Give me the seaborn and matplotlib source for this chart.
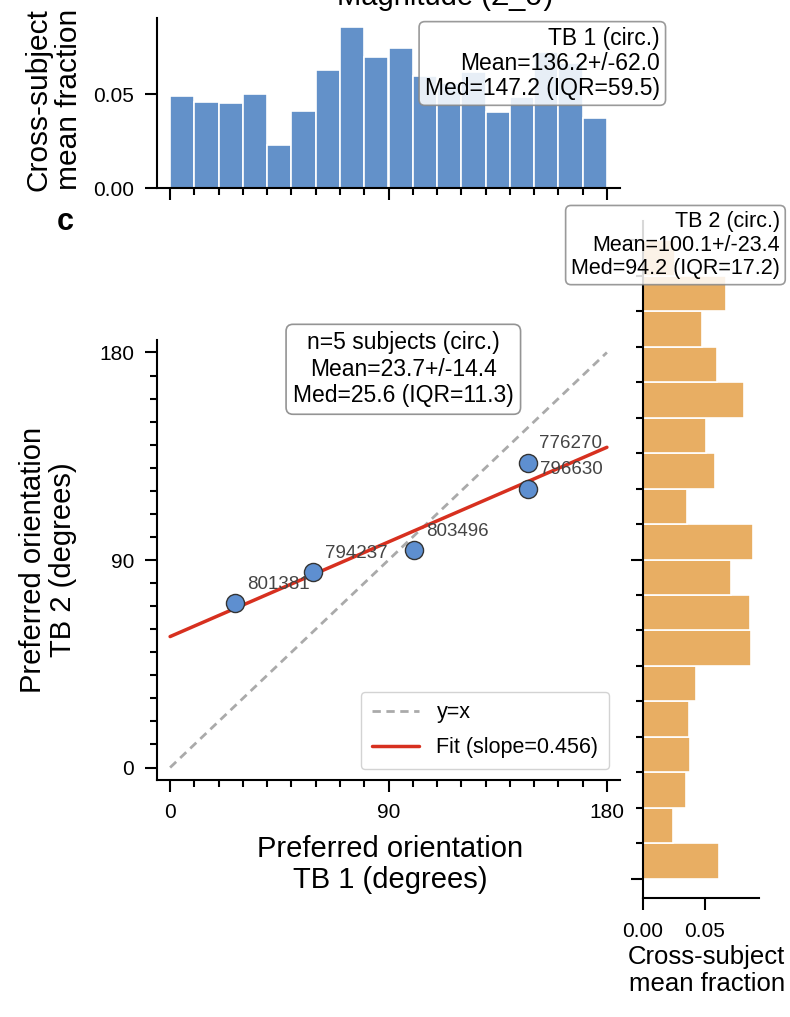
import numpy as np
import pandas as pd
import matplotlib
matplotlib.use("Agg")
import matplotlib.pyplot as plt
from matplotlib.ticker import FixedLocator, MultipleLocator, NullFormatter
from matplotlib.lines import Line2D
import seaborn as sns

# ---- data -------------------------------------------------------------
bin_edges = list(range(0, 181, 10))
bin_centers = [e + 5 for e in bin_edges[:-1]]

# cross-subject mean fraction per 10-degree bin, TB 1 (top marginal)
tb1_fraction = [0.0494, 0.0459, 0.0455, 0.0505, 0.0231, 0.0413, 0.0630, 0.0861, 0.0702,
                0.0750, 0.0599, 0.0560, 0.0622, 0.0405, 0.0489, 0.0726, 0.0667, 0.0373]
# cross-subject mean fraction per 10-degree bin, TB 2 (right marginal), bins 0-10 ... 170-180
tb2_fraction = [0.0616, 0.0243, 0.0351, 0.0380, 0.0378, 0.0430, 0.0878, 0.0870, 0.0713,
                0.0891, 0.0357, 0.0586, 0.0513, 0.0824, 0.0605, 0.0478, 0.0675, 0.0262]

subjects = ["801381", "794237", "803496", "776270", "796630"]
pref_tb1 = [26.8, 59.0, 100.5, 147.3, 147.6]
pref_tb2 = [71.3, 84.7, 94.3, 132.1, 121.0]

fit_slope = 0.456

tb1_stats = "TB 1 (circ.)\nMean=136.2+/-62.0\nMed=147.2 (IQR=59.5)"
tb2_stats = "TB 2 (circ.)\nMean=100.1+/-23.4\nMed=94.2 (IQR=17.2)"
diff_stats = "n=5 subjects (circ.)\nMean=23.7+/-14.4\nMed=25.6 (IQR=11.3)"

# ---- style -------------------------------------------------------------
sns.set_theme(style="ticks", rc={"text.color": "black", "axes.labelcolor": "black",
                                 "xtick.color": "black", "ytick.color": "black",
                                 "axes.edgecolor": "black", "axes.linewidth": 1.5})
plt.rcParams["font.family"] = ["Liberation Sans", "DejaVu Sans"]

BLUE = "#6391C9"
ORANGE = "#E8AE63"
POINT = "#5E8FD0"
RED = "#D7301F"
GREY = "#AAAAAA"
DASH = (0, (3, 2))

W, H = 790, 1017
fig = plt.figure(figsize=(W / 100, H / 100), dpi=100)


def px_axes(left, top, right, bottom):
    return fig.add_axes([left / W, 1 - bottom / H, (right - left) / W, (bottom - top) / H])


ax_top = px_axes(157, 18, 620, 188)
ax_sc = px_axes(157, 340, 620, 780)
ax_rt = px_axes(643, 221, 759, 898)

lim = (-5.4, 185.4)


def style_ticks(ax, pad=8):
    ax.tick_params(which="major", length=8.5, width=1.5, labelsize=15, pad=pad, color="black")
    ax.tick_params(which="minor", length=4.8, width=1.5, color="black")


# ---- top marginal: TB 1 ----------------------------------------------
top_df = pd.DataFrame({"center": bin_centers, "fraction": tb1_fraction})
sns.histplot(data=top_df, x="center", weights="fraction", bins=bin_edges, ax=ax_top,
             color=BLUE, alpha=1, edgecolor="white", linewidth=1.2)
ax_top.set_xlim(lim)
ax_top.set_ylim(0, 0.0909)
ax_top.xaxis.set_major_locator(FixedLocator([0, 90, 180]))
ax_top.xaxis.set_minor_locator(MultipleLocator(10))
ax_top.xaxis.set_major_formatter(NullFormatter())
ax_top.set_yticks([0, 0.05])
ax_top.set_yticklabels(["0.00", "0.05"])
ax_top.set_xlabel("")
ax_top.set_ylabel("Cross-subject\nmean fraction", fontsize=21.5, linespacing=1.12)
ax_top.yaxis.set_label_coords(-0.16, 0.52)
style_ticks(ax_top)
sns.despine(ax=ax_top)
ax_top.text(1.086, 0.945, tb1_stats, transform=ax_top.transAxes, ha="right", va="top",
            multialignment="right", fontsize=16.5, linespacing=1.09, zorder=5,
            bbox=dict(boxstyle="round,pad=0.25", fc="white", ec="#888888", lw=1.2, alpha=0.85))

# ---- scatter -------------------------------------------------------------
sc_df = pd.DataFrame({"subject": subjects, "tb1": pref_tb1, "tb2": pref_tb2})
diag = np.array([0, 180])
ax_sc.plot(diag, diag, ls=DASH, color=GREY, lw=2, label="y=x", zorder=1)
intercept = np.mean(pref_tb2) - fit_slope * np.mean(pref_tb1)
ax_sc.plot(diag, intercept + fit_slope * diag, color=RED, lw=2.5,
           label=f"Fit (slope={fit_slope:.3f})", zorder=2)
sns.scatterplot(data=sc_df, x="tb1", y="tb2", ax=ax_sc, s=170, color=POINT,
                edgecolor="#333333", linewidth=1.0, zorder=3, legend=False)
for name, xv, yv in zip(subjects, pref_tb1, pref_tb2):
    ax_sc.annotate(name, (xv, yv), xytext=(8.4, 7.6), textcoords="offset points",
                   ha="left", va="bottom", fontsize=13.5, color="#444444")

ax_sc.set_xlim(lim)
ax_sc.set_ylim(lim)
for axis in (ax_sc.xaxis, ax_sc.yaxis):
    axis.set_major_locator(FixedLocator([0, 90, 180]))
    axis.set_minor_locator(MultipleLocator(10))
ax_sc.set_xlabel("Preferred orientation\nTB 1 (degrees)", fontsize=21, linespacing=1.12)
ax_sc.set_ylabel("Preferred orientation\nTB 2 (degrees)", fontsize=21, linespacing=1.12)
ax_sc.xaxis.set_label_coords(0.503, -0.125)
ax_sc.yaxis.set_label_coords(-0.172, 0.5)
style_ticks(ax_sc)
sns.despine(ax=ax_sc)

handles = [Line2D([], [], ls=DASH, color=GREY, lw=2),
           Line2D([], [], color=RED, lw=2.5)]
ax_sc.legend(handles, ["y=x", f"Fit (slope={fit_slope:.3f})"], loc="lower right",
             fontsize=15.5, frameon=True, fancybox=True, framealpha=0.85,
             edgecolor="#cccccc", handlelength=2.2, borderpad=0.5, labelspacing=0.65)

ax_sc.text(0.532, 1.02, diff_stats, transform=ax_sc.transAxes, ha="center", va="top",
           fontsize=16.5, linespacing=1.2, zorder=5,
           bbox=dict(boxstyle="round,pad=0.3", fc="white", ec="#888888", lw=1.2, alpha=0.9))

# ---- right marginal: TB 2 ----------------------------------------------
rt_df = pd.DataFrame({"center": bin_centers, "fraction": tb2_fraction})
sns.histplot(data=rt_df, y="center", weights="fraction", bins=bin_edges, ax=ax_rt,
             color=ORANGE, alpha=1, edgecolor="white", linewidth=1.2)
ax_rt.set_ylim(lim)
ax_rt.set_xlim(0, 0.0943)
ax_rt.yaxis.set_major_locator(FixedLocator([0, 90, 180]))
ax_rt.yaxis.set_minor_locator(MultipleLocator(10))
ax_rt.yaxis.set_major_formatter(NullFormatter())
ax_rt.set_xticks([0, 0.05])
ax_rt.set_xticklabels(["0.00", "0.05"])
ax_rt.set_ylabel("")
ax_rt.set_xlabel("Cross-subject\nmean fraction", fontsize=18.5, linespacing=1.15)
ax_rt.xaxis.set_label_coords(0.55, -0.07)
style_ticks(ax_rt, pad=9)
sns.despine(ax=ax_rt)
ax_rt.text(1.18, 1.015, tb2_stats, transform=ax_rt.transAxes, ha="right", va="top",
           multialignment="right", fontsize=15.5, linespacing=1.17, zorder=5,
           bbox=dict(boxstyle="round,pad=0.25", fc="white", ec="#888888", lw=1.2, alpha=0.85))

# ---- panel label and clipped header ----------------------------------
fig.text(65 / W, 1 - 222 / H, "c", fontsize=22, fontweight="bold", ha="center", va="center")
fig.text(445 / W, 1 - 5 / H, "Magnitude (Σ_σ)", fontsize=21, ha="center", va="baseline")

fig.savefig("out.png", dpi=100)
